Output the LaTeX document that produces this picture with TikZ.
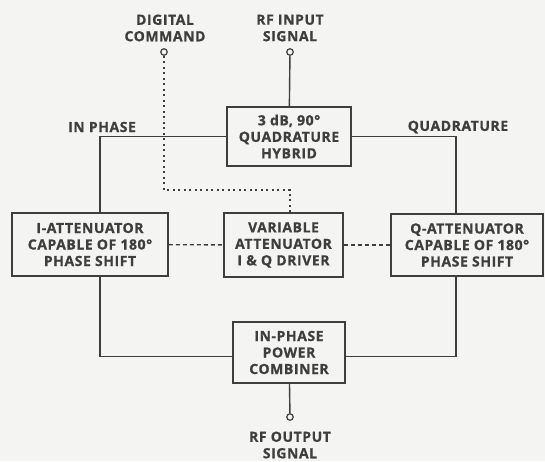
\documentclass[tikz,border=0pt]{standalone}
\usepackage{fontspec}
\setmainfont{Open Sans}[LetterSpace=4, BoldFeatures={FakeBold=0.8}]
\definecolor{paper}{RGB}{244,244,242}
\definecolor{ink}{RGB}{62,62,62}
\begin{document}
\begin{tikzpicture}[
x=1pt, y=-1pt,
every node/.style={
font=\bfseries\fontsize{14}{16.5}\selectfont,
text=ink,
align=center,
inner sep=0pt
},
box/.style={draw=ink, line width=1.6pt},
port/.style={circle, draw=ink, line width=1.2pt, minimum size=6.5pt},
wire/.style={draw=ink, line width=1.4pt},
cmd/.style={wire, dash pattern=on 2pt off 3.5pt},
ctl/.style={wire, dash pattern=on 4pt off 3pt}
]
\fill[paper] (0,0) rectangle (545,461);
% labels
\node (digcmd) at (165,28) {DIGITAL\\COMMAND};
\node (rfinlbl) at (290,28) {RF INPUT\\SIGNAL};
\node (inph) at (102,127) {IN PHASE};
\node (quad) at (458,127) {QUADRATURE};
\node (rfoutlbl) at (290,445) {RF OUTPUT\\SIGNAL};
% ports
\node[port] (digport) at (164,52) {};
\node[port] (rfin) at (290,52) {};
\node[port] (rfout) at (290,417) {};
% blocks
\node[box, minimum width=124pt, minimum height=59pt] (hybrid) at (289,136.5) {3 dB, 90°\\QUADRATURE\\HYBRID};
\node[box, minimum width=156pt, minimum height=63pt] (iatt) at (90,244.5) {I-ATTENUATOR\\CAPABLE OF 180°\\PHASE SHIFT};
\node[box, minimum width=119pt, minimum height=64pt] (vatt) at (283.5,245) {VARIABLE\\ATTENUATOR\\I \& Q DRIVER};
\node[box, minimum width=152pt, minimum height=62pt] (qatt) at (467,245) {Q-ATTENUATOR\\CAPABLE OF 180°\\PHASE SHIFT};
\node[box, minimum width=112pt, minimum height=61pt] (comb) at (289,352.5) {IN-PHASE\\POWER\\COMBINER};
\coordinate (bend) at (290,190);
% connectors
\draw[wire] (rfin) -- (hybrid);
\draw[wire] (hybrid.west) -| ([xshift=10pt]iatt.north);
\draw[wire] (hybrid.east) -| ([xshift=-11pt]qatt.north);
\draw[wire] ([xshift=10pt]iatt.south) |- ([yshift=-4pt]comb.west);
\draw[wire] ([xshift=-11pt]qatt.south) |- ([yshift=-4pt]comb.east);
\draw[wire] (comb) -- (rfout);
\draw[cmd] (digport) |- (bend) -- (vatt.north -| bend);
\draw[ctl] (iatt) -- (vatt);
\draw[ctl] (vatt) -- (qatt);
\end{tikzpicture}
\end{document}
